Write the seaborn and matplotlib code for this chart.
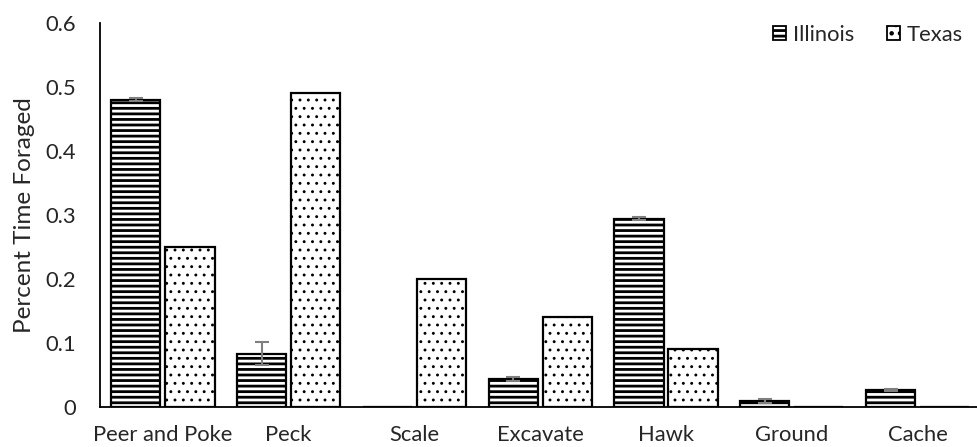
import numpy as np
import pandas as pd
import seaborn as sns
import matplotlib.pyplot as plt
from matplotlib.patches import Patch

categories = ["Peer and Poke", "Peck", "Scale", "Excavate", "Hawk", "Ground", "Cache"]
illinois = [0.480, 0.083, 0.0, 0.043, 0.294, 0.009, 0.026]
illinois_err = [0.003, 0.018, 0.0, 0.003, 0.003, 0.003, 0.001]
texas = [0.25, 0.49, 0.20, 0.14, 0.09, 0.0, 0.0]
texas_err = [0, 0, 0, 0, 0, 0, 0]
states = ["Illinois", "Texas"]

df = pd.DataFrame({
    "behavior": categories * 2,
    "state": ["Illinois"] * len(categories) + ["Texas"] * len(categories),
    "pct": illinois + texas,
})

sns.set_style("white")
plt.rcParams['font.family'] = ['Lato', 'DejaVu Sans']
plt.rcParams['hatch.linewidth'] = 2.0
plt.rcParams['hatch.color'] = 'black'

fig = plt.figure(figsize=(9.78, 4.47), dpi=100)
ax = fig.add_axes([100 / 978, 0.0902, 878 / 978, 0.859])

sns.barplot(data=df, x="behavior", y="pct", hue="state", order=categories,
            hue_order=states, width=0.86, gap=0.09, errorbar=None,
            palette=["white", "white"], edgecolor="black", linewidth=1.6,
            legend=False, ax=ax)

hatches = ["---", ".."]
hatch_lw = [2.0, 0.9]
errs = [illinois_err, texas_err]
for cont, h, hlw, err in zip(ax.containers, hatches, hatch_lw, errs):
    xs, ys = [], []
    for bar in cont:
        bar.set_hatch(h)
        if hasattr(bar, "set_hatch_linewidth"):
            bar.set_hatch_linewidth(hlw)
        bar.set_facecolor("white")
        bar.set_edgecolor("black")
        xs.append(bar.get_x() + bar.get_width() / 2)
        ys.append(bar.get_height())
    e = np.array(err)
    keep = e > 0
    ax.errorbar(np.array(xs)[keep], np.array(ys)[keep], yerr=e[keep], fmt="none",
                ecolor="#7f7f7f", elinewidth=1.5, capsize=5, capthick=1.5, zorder=5)

ax.set_ylim(0, 0.6)
ax.set_xlim(-0.5, 6.48)
ax.set_yticks(np.arange(0, 0.61, 0.1))
ax.set_yticklabels(["0", "0.1", "0.2", "0.3", "0.4", "0.5", "0.6"])

ax.set_xticks(np.arange(-0.5, 6.5, 1.0))
ax.set_xticklabels([])
ax.set_xticks(range(len(categories)), minor=True)
ax.set_xticklabels(categories, minor=True)
ax.tick_params(axis="x", which="major", direction="out", length=6, width=1.3, color="black")
ax.tick_params(axis="x", which="minor", length=0, pad=13, labelsize=15.8)
ax.tick_params(axis="y", direction="out", length=6, width=1.3, color="black",
               pad=11, labelsize=15.8)

for s in ["top", "right"]:
    ax.spines[s].set_visible(False)
for s in ["left", "bottom"]:
    ax.spines[s].set_color("black")
    ax.spines[s].set_linewidth(1.3)

ax.set_xlabel("")
ax.set_ylabel("Percent Time Foraged", fontsize=17.5, labelpad=8)

handles = []
for h, hlw in zip(hatches, hatch_lw):
    p = Patch(facecolor="white", edgecolor="black", hatch=h, linewidth=1.3)
    if hasattr(p, "set_hatch_linewidth"):
        p.set_hatch_linewidth(hlw)
    handles.append(p)
ax.legend(handles, states, loc="upper right", bbox_to_anchor=(1.005, 1.045),
          ncol=2, frameon=False, fontsize=15.8, handlelength=0.6, handleheight=0.6,
          handletextpad=0.3, columnspacing=1.5)

fig.savefig("out.png", dpi=100)
